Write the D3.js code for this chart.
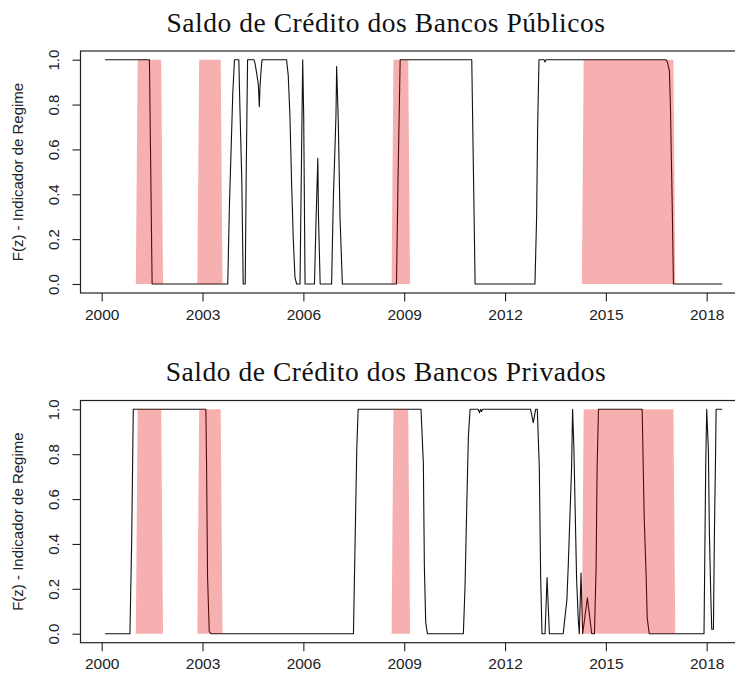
<!DOCTYPE html>
<html>
<head>
<meta charset="utf-8">
<script src="https://cdn.jsdelivr.net/npm/d3@7/dist/d3.min.js"></script>
<style>
  html, body { margin: 0; padding: 0; background: #fff; }
  svg { display: block; }
</style>
</head>
<body>
<svg id="chart" width="735" height="679"></svg>
<script>
// Regime indicator F(z) for public and private bank credit, with recession periods shaded.

const xTickYears = [2000, 2003, 2006, 2009, 2012, 2015, 2018];
const yTickValues = [0, 0.2, 0.4, 0.6, 0.8, 1.0];

// Recession periods (decimal years)
const recessionStart = [2001.07, 2002.90, 2008.68, 2014.34];
const recessionEnd   = [2001.77, 2003.54, 2009.12, 2017.01];

// Saldo de Crédito dos Bancos Públicos: vertices of F(z)
const publicTime = [
  2000.10, 2001.42, 2001.50, 2003.75, 2003.80, 2003.85, 2003.90, 2003.95,
  2004.08, 2004.11, 2004.17, 2004.21, 2004.27, 2004.30, 2004.34,
  2004.53, 2004.56, 2004.61, 2004.66, 2004.69, 2004.71, 2004.74, 2004.77,
  2005.50, 2005.55, 2005.60, 2005.65, 2005.70, 2005.75, 2005.80,
  2005.90, 2005.98, 2006.01, 2006.05,
  2006.33, 2006.38, 2006.43, 2006.45, 2006.50,
  2006.84, 2006.89, 2006.97, 2006.99, 2007.04, 2007.09, 2007.16,
  2008.77, 2008.82, 2008.88,
  2011.01, 2011.06, 2011.11,
  2012.89, 2012.94, 2012.97, 2013.01, 2013.16, 2013.19, 2013.22,
  2016.78, 2016.83, 2016.89, 2016.92, 2016.95, 2016.98, 2017.01,
  2018.46
];
const publicValue = [
  1, 1, 0, 0, 0.35, 0.6, 0.85, 1,
  1, 0.8, 0.45, 0, 0, 0.5, 1,
  1, 0.985, 0.94, 0.89, 0.79, 0.88, 0.95, 1,
  1, 0.93, 0.75, 0.45, 0.2, 0.03, 0,
  0, 1, 0.75, 0,
  0, 0.3, 0.56, 0.3, 0,
  0, 0.37, 0.75, 0.97, 0.72, 0.3, 0,
  0, 0.5, 1,
  1, 0.5, 0,
  0, 0.3, 0.7, 1, 1, 0.99, 1,
  1, 0.99, 0.95, 0.8, 0.55, 0.3, 0,
  0
];

// Saldo de Crédito dos Bancos Privados: vertices of F(z)
const privateTime = [
  2000.10, 2000.84, 2000.89, 2000.94,
  2003.10, 2003.12, 2003.15, 2003.20, 2003.25,
  2007.49, 2007.51, 2007.55, 2007.59, 2007.63,
  2009.50, 2009.57, 2009.60, 2009.64, 2009.69,
  2010.76, 2010.81, 2010.86, 2010.91, 2010.96,
  2011.20, 2011.24, 2011.27, 2011.30, 2011.33,
  2012.76, 2012.84, 2012.91, 2012.96, 2013.02, 2013.06, 2013.10,
  2013.19, 2013.25, 2013.32,
  2013.73, 2013.84, 2013.88, 2013.93, 2013.98, 2014.01,
  2014.05, 2014.08, 2014.13, 2014.18, 2014.21,
  2014.26, 2014.31, 2014.45, 2014.58,
  2014.66, 2014.71, 2014.74, 2014.78,
  2016.08, 2016.14, 2016.20, 2016.23, 2016.29,
  2017.92, 2017.97, 2018.00, 2018.05, 2018.08, 2018.12, 2018.15,
  2018.20, 2018.23, 2018.26, 2018.28, 2018.46
];
const privateValue = [
  0, 0, 0.4, 1,
  1, 0.75, 0.25, 0.01, 0,
  0, 0.17, 0.5, 0.83, 1,
  1, 0.76, 0.3, 0.05, 0,
  0, 0.21, 0.56, 0.88, 1,
  1, 0.985, 1, 0.99, 1,
  1, 0.94, 1, 1, 0.74, 0.25, 0,
  0, 0.25, 0,
  0, 0.15, 0.3, 0.52, 0.74, 1,
  0.82, 0.6, 0.24, 0.06, 0,
  0.27, 0, 0.16, 0,
  0, 0.3, 0.74, 1,
  1, 0.52, 0.25, 0.07, 0,
  0, 0.74, 1, 0.82, 0.45, 0.18, 0.02,
  0.02, 0.45, 0.76, 1, 1
];

const panels = [
  { title: "Saldo de Crédito dos Bancos Públicos", time: publicTime, value: publicValue,
    boxTop: 51, boxBottom: 293, y1: 59.7, y0: 284, titleY: 31.5 },
  { title: "Saldo de Crédito dos Bancos Privados", time: privateTime, value: privateValue,
    boxTop: 400.5, boxBottom: 642.7, y1: 409.3, y0: 633.7, titleY: 381 }
];

const svg = d3.select("#chart");
const boxLeft = 80.5;
const boxRight = 760;
const rampYears = 0.055;   // slope of the shaded band edges
const sansFont = "'Liberation Sans', Arial, sans-serif";
const serifFont = "'Liberation Serif', 'Times New Roman', serif";

const x = d3.scaleLinear().domain([2000, 2018]).range([101.7, 706.7]);

panels.forEach(p => {
  const g = svg.append("g");
  const y = d3.scaleLinear().domain([0, 1]).range([p.y0, p.y1]);

  // title
  g.append("text")
    .attr("x", 386)
    .attr("y", p.titleY)
    .attr("text-anchor", "middle")
    .attr("font-family", serifFont)
    .attr("font-size", 27.5)
    .attr("letter-spacing", "0.55px")
    .attr("fill", "#111")
    .text(p.title);

  // regime indicator line
  const pts = p.time.map((t, i) => [t, p.value[i]]);
  const line = d3.line().x(d => x(d[0])).y(d => y(d[1]));
  g.append("path")
    .datum(pts)
    .attr("d", line)
    .attr("fill", "none")
    .attr("stroke", "#111")
    .attr("stroke-width", 1.1)
    .attr("stroke-linejoin", "round");

  // recession shading, translucent red over the line
  const area = d3.line().x(d => x(d[0])).y(d => y(d[1]));
  recessionStart.forEach((s, i) => {
    const e = recessionEnd[i];
    const poly = [[s - rampYears, 0], [s, 1], [e, 1], [e + rampYears, 0]];
    g.append("path")
      .attr("d", area(poly) + "Z")
      .attr("fill", "rgb(225,0,0)")
      .attr("fill-opacity", 0.31)
      .attr("stroke", "none");
  });

  // plot box
  g.append("rect")
    .attr("x", boxLeft)
    .attr("y", p.boxTop)
    .attr("width", boxRight - boxLeft)
    .attr("height", p.boxBottom - p.boxTop)
    .attr("fill", "none")
    .attr("stroke", "#222")
    .attr("stroke-width", 1.2);

  // x axis
  const xAxis = d3.axisBottom(x)
    .tickValues(xTickYears)
    .tickFormat(d3.format("d"))
    .tickSize(8.5)
    .tickPadding(7);
  const gx = g.append("g")
    .attr("transform", `translate(0,${p.boxBottom})`)
    .call(xAxis);
  gx.select(".domain").remove();
  gx.selectAll(".tick line").attr("stroke", "#222").attr("stroke-width", 1.1);
  gx.selectAll(".tick text")
    .attr("font-family", sansFont)
    .attr("font-size", 15.5)
    .attr("fill", "#222");

  // y axis with labels parallel to the axis
  const yAxis = d3.axisLeft(y)
    .tickValues(yTickValues)
    .tickFormat(d3.format(".1f"))
    .tickSize(8)
    .tickPadding(0);
  const gy = g.append("g")
    .attr("transform", `translate(${boxLeft},0)`)
    .call(yAxis);
  gy.select(".domain").remove();
  gy.selectAll(".tick line").attr("stroke", "#222").attr("stroke-width", 1.1);
  gy.selectAll(".tick text")
    .attr("x", null)
    .attr("text-anchor", "middle")
    .attr("transform", "translate(-26.5,0) rotate(-90)")
    .attr("dy", "0.36em")
    .attr("font-family", sansFont)
    .attr("font-size", 15)
    .attr("fill", "#222");

  // y axis title
  g.append("text")
    .attr("transform", `translate(18,${(p.boxTop + p.boxBottom) / 2}) rotate(-90)`)
    .attr("text-anchor", "middle")
    .attr("dy", "0.36em")
    .attr("font-family", sansFont)
    .attr("font-size", 15)
    .attr("fill", "#222")
    .text("F(z) - Indicador de Regime");
});
</script>
</body>
</html>
